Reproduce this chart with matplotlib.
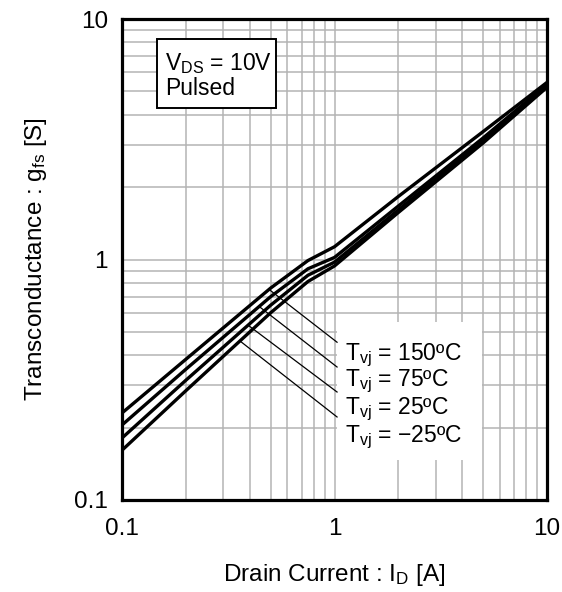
import numpy as np
import matplotlib
matplotlib.use("Agg")
import matplotlib.pyplot as plt
from matplotlib.patches import Rectangle

plt.rcParams["font.family"] = ["Liberation Sans", "DejaVu Sans"]
plt.rcParams["mathtext.fontset"] = "custom"
plt.rcParams["mathtext.rm"] = "Liberation Sans"
plt.rcParams["mathtext.it"] = "Liberation Sans:italic"

# Drain current (A) and transconductance (S)
drain_current = [0.1, 0.2, 0.5, 0.75, 1, 2, 5, 10]
gfs_150 = [0.23, 0.385, 0.76, 0.99, 1.13, 1.83, 3.4, 5.45]
gfs_75 = [0.205, 0.35, 0.70, 0.915, 1.02, 1.67, 3.2, 5.35]
gfs_25 = [0.181, 0.315, 0.645, 0.86, 0.975, 1.61, 3.12, 5.3]
gfs_m25 = [0.161, 0.285, 0.60, 0.81, 0.94, 1.57, 3.05, 5.2]
series = [gfs_150, gfs_75, gfs_25, gfs_m25]
labels = ["150ºC", "75ºC", "25ºC", "\u221225ºC"]

INK = "black"
GRID = "#b4b4b4"

fig = plt.figure(figsize=(5.62, 5.92), dpi=100)
ax = fig.add_axes([122 / 562, 92 / 592, 425 / 562, 481 / 592])
ax.set_xscale("log")
ax.set_yscale("log")
ax.set_xlim(0.1, 10)
ax.set_ylim(0.1, 10)

ax.grid(which="both", color=GRID, linewidth=1.1)
ax.set_axisbelow(True)
for sp in ax.spines.values():
    sp.set_linewidth(2.3)
    sp.set_color(INK)
ax.tick_params(which="both", length=0, labelsize=17.5, colors=INK)
ax.tick_params(axis="x", pad=13)
ax.tick_params(axis="y", pad=10)
ax.set_xticks([0.1, 1, 10])
ax.set_xticklabels(["0.1", "1", "10"])
ax.set_yticks([0.1, 1, 10])
ax.set_yticklabels(["0.1", "1", "10"])
ax.minorticks_on()
ax.tick_params(which="minor", labelbottom=False, labelleft=False)

for ys in series:
    ax.plot(drain_current, ys, color=INK, lw=2.4, zorder=4, solid_capstyle="butt")

# white label panel
ax.add_patch(Rectangle((0.506, 0.083), 0.341, 0.287, transform=ax.transAxes,
                       facecolor="white", edgecolor="none", zorder=2))

# leader lines and labels
lx = np.log10(drain_current)
leader_x = [0.492, 0.442, 0.392, 0.359]
end_y = [0.328, 0.2765, 0.2245, 0.1726]
text_y = [0.291, 0.237, 0.178, 0.120]
to_data = ax.transAxes + ax.transData.inverted()
for ys, x0, ey, ty, lab in zip(series, leader_x, end_y, text_y, labels):
    y0 = 10 ** np.interp(np.log10(x0), lx, np.log10(ys))
    x1, y1 = to_data.transform((0.506, ey))
    ax.plot([x0, x1], [y0, y1], color=INK, lw=0.9, zorder=3)
    ax.text(0.525, ty, r"T$_\mathrm{vj}$ = " + lab, transform=ax.transAxes,
            fontsize=16.5, va="baseline", ha="left", zorder=5)

# condition box
ax.add_patch(Rectangle((0.082, 0.815), 0.280, 0.143, transform=ax.transAxes,
                       facecolor="white", edgecolor=INK, linewidth=1.4, zorder=5))
ax.text(0.101, 0.894, r"V$_\mathrm{DS}$ = 10V", transform=ax.transAxes,
        fontsize=16.5, va="baseline", ha="left", zorder=6)
ax.text(0.101, 0.842, "Pulsed", transform=ax.transAxes,
        fontsize=16.5, va="baseline", ha="left", zorder=6)

ax.set_xlabel(r"Drain Current : I$_\mathrm{D}$ [A]", fontsize=17.5, labelpad=16)
ax.set_ylabel(r"Transconductance : g$_\mathrm{fs}$ [S]", fontsize=17.5, labelpad=18)

fig.savefig("out.png", dpi=100)
